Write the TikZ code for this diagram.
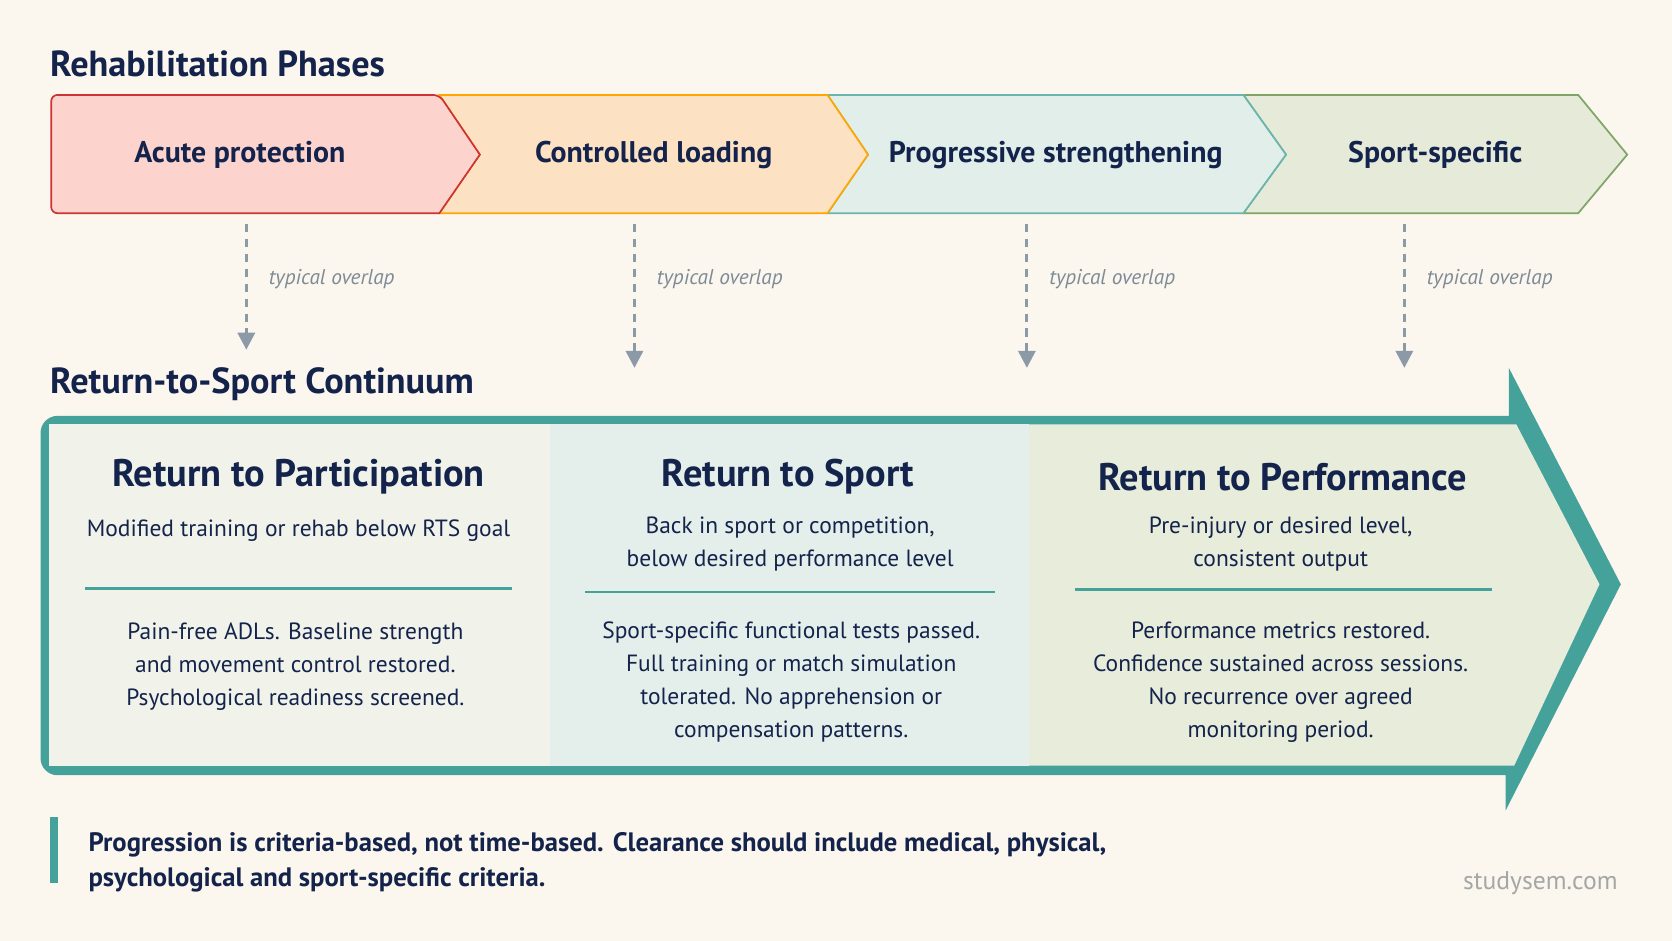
\documentclass[tikz,border=0pt]{standalone}
\usepackage{fontspec}
\setmainfont{PT Sans}
\usetikzlibrary{arrows.meta}
\definecolor{navy}{HTML}{14234B}
\definecolor{cream}{HTML}{FBF7EE}
\definecolor{teal}{HTML}{45A29B}
\definecolor{greyblue}{HTML}{8C9AA8}
\definecolor{sage}{HTML}{E5EBD8}
\definecolor{sagedark}{HTML}{7FA466}
\definecolor{mint}{HTML}{E2EEE9}
\definecolor{paleleft}{HTML}{F1F3EA}
\definecolor{palemid}{HTML}{E4EFEB}
\definecolor{paleright}{HTML}{E7ECDB}
\begin{document}
\begin{tikzpicture}[x=0.5pt, y=-0.5pt,
    heading/.style = {anchor=west, font=\fontsize{17}{20}\selectfont\bfseries, text=navy},
    phase/.style = {font=\fontsize{14}{17}\selectfont\bfseries, text=navy},
    overlap/.style = {anchor=west, font=\fontsize{10}{12}\selectfont\itshape, text=greyblue!90!black},
    ptitle/.style = {font=\fontsize{18}{22}\selectfont\bfseries, text=navy},
    ptext/.style = {align=center, font=\fontsize{11}{15.5}\selectfont, text=navy},
    overlaparrow/.style = {draw=greyblue, line width=1.5pt, dash pattern=on 4pt off 3pt, -{Triangle[length=8pt,width=8pt]}}]
    \fill[cream] (0,0) rectangle (1568,882);

    \node[heading] (phases) at (40,60) {Rehabilitation Phases};

    % chevrons
    \draw[fill=sage, draw=sagedark, line width=0.8pt] (1166,89) -- (1480,89) -- (1526,145) -- (1480,200) -- (1166,200) -- (1206,145) -- cycle;
    \draw[fill=mint, draw=teal!80, line width=0.8pt] (776,89) -- (1166,89) -- (1206,145) -- (1166,200) -- (776,200) -- (814,145) -- cycle;
    \draw[fill=orange!18!cream, draw=orange!70!yellow, line width=0.8pt] (412,89) -- (776,89) -- (814,145) -- (776,200) -- (412,200) -- (450,145) -- cycle;
    \draw[fill=red!14!cream, draw=red!75!black!80, line width=0.8pt, rounded corners=3pt] (48,89) -- (412,89) [sharp corners] -- (450,145) -- (412,200) [rounded corners=3pt] -- (48,200) -- cycle;
    \node[phase] (acute) at (225,145) {Acute protection};
    \node[phase] (control) at (613,145) {Controlled loading};
    \node[phase] (progress) at (990,145) {Progressive strengthening};
    \node[phase] (specific) at (1346,145) {Sport-specific};

    % overlap arrows
    \foreach \x/\y/\n in {231/328/a, 595/345/b, 963/345/c, 1317/345/d} {
        \coordinate (s\n) at (\x,210);
        \coordinate (e\n) at (\x,\y);
        \draw[overlaparrow] (s\n) -- (e\n);
        \node[overlap] (o\n) at (\x+14,262) {typical overlap};
    }

    \node[heading] (continuum) at (40,360) {Return-to-Sport Continuum};

    % big arrow
    \fill[teal, rounded corners=8pt] (38,390) [sharp corners] -- (1415,390) -- (1415,345) -- (1520,548) -- (1412,760) -- (1412,727) [rounded corners=8pt] -- (38,727) -- cycle;
    \fill[paleleft] (46,398) -- (516,398) -- (516,718) -- (46,718) -- cycle;
    \fill[palemid] (516,398) -- (965,398) -- (965,718) -- (516,718) -- cycle;
    \fill[paleright] (965,398) -- (1422,398) -- (1500,548) -- (1420,718) -- (965,718) -- cycle;

    \node[ptitle] (partic) at (280,447) {Return to Participation};
    \node[ptext, anchor=north] (partsub) at (280,480) {Modified training or rehab below RTS goal};
    \draw[teal, line width=1.2pt] (80,552) -- (480,552);
    \node[ptext, anchor=north] (partbody) at (277,577) {Pain-free ADLs. Baseline strength\\and movement control restored.\\Psychological readiness screened.};

    \node[ptitle] (sport) at (739,447) {Return to Sport};
    \node[ptext, anchor=north] (sportsub) at (741,478) {Back in sport or competition,\\below desired performance level};
    \draw[teal, line width=1.2pt] (549,555) -- (933,555);
    \node[ptext, anchor=north] (sportbody) at (742,576) {Sport-specific functional tests passed.\\Full training or match simulation\\tolerated. No apprehension or\\compensation patterns.};

    \node[ptitle] (perf) at (1203,447) {Return to Performance};
    \node[ptext, anchor=north] (perfsub) at (1201,478) {Pre-injury or desired level,\\consistent output};
    \draw[teal, line width=1.2pt] (1008,553) -- (1399,553);
    \node[ptext, anchor=north] (perfbody) at (1201,576) {Performance metrics restored.\\Confidence sustained across sessions.\\No recurrence over agreed\\monitoring period.};

    % note
    \fill[teal] (47,766) rectangle (54,828);
    \node[anchor=north west, align=left, text=navy, font=\fontsize{12.5}{16}\selectfont\bfseries] (note) at (76,774) {Progression is criteria-based, not time-based. Clearance should include medical, physical,\\psychological and sport-specific criteria.};
    \node[anchor=east, text=black!35, font=\fontsize{12}{14}\selectfont] (mark) at (1524,828) {studysem.com};
\end{tikzpicture}
\end{document}
